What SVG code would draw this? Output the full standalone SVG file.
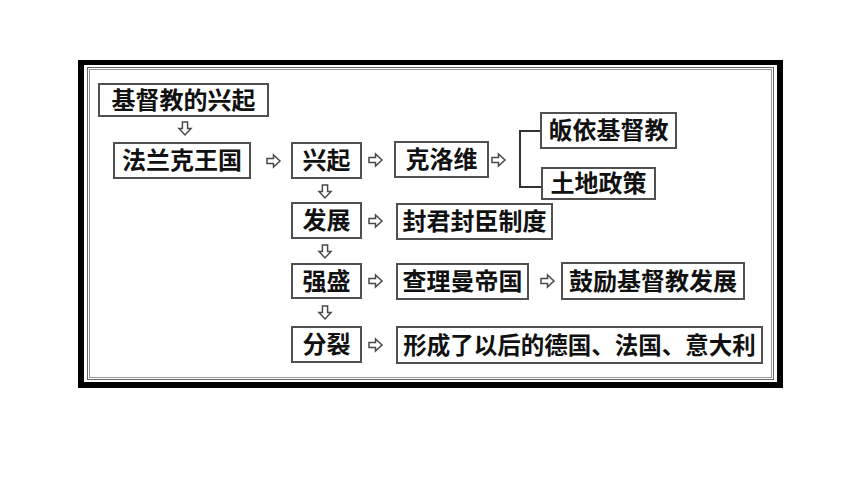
<svg xmlns="http://www.w3.org/2000/svg" xmlns:xlink="http://www.w3.org/1999/xlink" width="860" height="484" viewBox="0 0 860 484">
<style>
.box{fill:#fff;stroke:#505050;stroke-width:2}
.t{font-family:"Noto Sans CJK SC","Noto Sans",sans-serif;font-weight:bold;font-size:24px;fill:#111;text-anchor:middle}
.ar{fill:#fff;stroke:#4a4a4a;stroke-width:1.5;stroke-linejoin:miter}
.ln{fill:none;stroke:#333;stroke-width:2}
</style>
<defs>
<path id="ar" class="ar" d="M0,-2.6H6.5V-6L13,0L6.5,6V2.6H0Z"/>
</defs>
<rect x="0" y="0" width="860" height="484" fill="#fff"/>
<g id="frame">
<rect x="78" y="60" width="705" height="328" fill="#000"/>
<rect x="84" y="65" width="693" height="317" fill="#fff"/>
<rect x="87.5" y="67.5" width="686" height="312" fill="none" stroke="#666" stroke-width="1"/>
<rect x="89.5" y="69.5" width="682" height="308" fill="none" stroke="#999" stroke-width="1"/>
</g>
<g id="connectors">
<use xlink:href="#ar" transform="translate(185,122) rotate(90)"/>
<use xlink:href="#ar" transform="translate(267,161)"/>
<use xlink:href="#ar" transform="translate(369,160)"/>
<use xlink:href="#ar" transform="translate(492,160)"/>
<path class="ln" d="M541,131H520V187H542"/>
<use xlink:href="#ar" transform="translate(325,185) rotate(90)"/>
<use xlink:href="#ar" transform="translate(369,221)"/>
<use xlink:href="#ar" transform="translate(325,245) rotate(90)"/>
<use xlink:href="#ar" transform="translate(369,281)"/>
<use xlink:href="#ar" transform="translate(541,281)"/>
<use xlink:href="#ar" transform="translate(325,306) rotate(90)"/>
<use xlink:href="#ar" transform="translate(369,345)"/>
</g>
<g id="n1"><rect class="box" x="99" y="84" width="169" height="32"/><text class="t" x="183.5" y="108.5">基督教的兴起</text></g>
<g id="n2"><rect class="box" x="114" y="143" width="136" height="35"/><text class="t" x="182" y="169">法兰克王国</text></g>
<g id="n3"><rect class="box" x="292" y="143" width="69" height="35"/><text class="t" x="326.5" y="169">兴起</text></g>
<g id="n4"><rect class="box" x="395" y="142" width="93" height="35"/><text class="t" x="441.5" y="168">克洛维</text></g>
<g id="n5"><rect class="box" x="541" y="113" width="135" height="35"/><text class="t" x="608.5" y="139">皈依基督教</text></g>
<g id="n6"><rect class="box" x="542" y="168" width="113" height="31"/><text class="t" x="598.5" y="192">土地政策</text></g>
<g id="n7"><rect class="box" x="292" y="203" width="69" height="35"/><text class="t" x="326.5" y="229">发展</text></g>
<g id="n8"><rect class="box" x="397" y="204" width="155" height="35"/><text class="t" x="474.5" y="230">封君封臣制度</text></g>
<g id="n9"><rect class="box" x="292" y="264" width="69" height="34"/><text class="t" x="326.5" y="289.5">强盛</text></g>
<g id="n10"><rect class="box" x="397" y="264" width="131" height="35"/><text class="t" x="462.5" y="290">查理曼帝国</text></g>
<g id="n11"><rect class="box" x="562" y="263" width="182" height="36"/><text class="t" x="653" y="289.5">鼓励基督教发展</text></g>
<g id="n12"><rect class="box" x="292" y="327" width="69" height="35"/><text class="t" x="326.5" y="353">分裂</text></g>
<g id="n13"><rect class="box" x="397" y="327" width="365" height="36"/><text class="t" x="579.5" y="353.5" style="font-size:23.5px">形成了以后的德国、法国、意大利</text></g>
</svg>
